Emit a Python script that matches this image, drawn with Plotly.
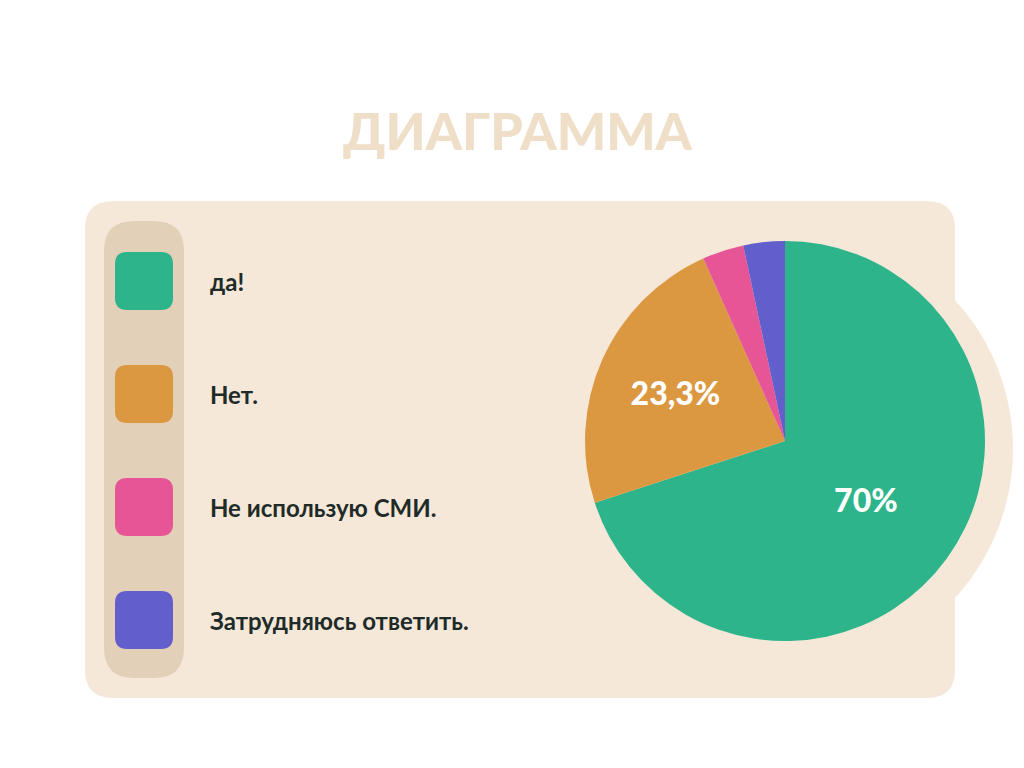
import plotly.graph_objects as go

labels = ["да!", "Нет.", "Не использую СМИ.", "Затрудняюсь ответить."]
values = [70, 23.3, 3.35, 3.35]
shown = ["70%", "23,3%", "", ""]
colors = ["#2db48a", "#db9841", "#e65595", "#625ecb"]

def rrect(x0, y0, x1, y1, r):
    return (f"M{x0+r},{y0} L{x1-r},{y0} Q{x1},{y0} {x1},{y0+r} L{x1},{y1-r} Q{x1},{y1} {x1-r},{y1} "
            f"L{x0+r},{y1} Q{x0},{y1} {x0},{y1-r} L{x0},{y0+r} Q{x0},{y0} {x0+r},{y0} Z")

fig = go.Figure()
# empty scatter so the pixel-unit axes exist for shapes and annotations
fig.add_trace(go.Scatter(x=[None], y=[None], showlegend=False, hoverinfo="skip"))
fig.add_trace(go.Pie(
    labels=labels, values=values, text=shown, texttemplate="%{text}",
    textposition="inside", insidetextorientation="horizontal",
    marker=dict(colors=colors), sort=False, direction="clockwise", rotation=0,
    textfont=dict(color="white", size=32, family="Lato Black, Lato, sans-serif"),
    showlegend=False, hoverinfo="label+percent",
    domain=dict(x=[577/1024, 977/1024], y=[1-633/768, 1-233/768]),
))

shapes = [
    dict(type="path", path=rrect(77, 193, 947, 690, 28), fillcolor="#f5e8d8", line_width=0, layer="below"),
    dict(type="circle", x0=565, y0=221, x1=1005, y1=661, fillcolor="#f5e8d8", line_width=0, layer="below"),
    dict(type="path", path=rrect(96, 213, 176, 670, 30), fillcolor="#e3d0b8", line_width=0, layer="below"),
]
annotations = []
for i, (lab, col) in enumerate(zip(labels, colors)):
    yc = 273 + i * 113
    shapes.append(dict(type="path", path=rrect(107, yc - 29, 165, yc + 29, 12),
                       fillcolor=col, line_width=0, layer="below"))
    annotations.append(dict(x=200, y=yc, text=f"<b>{lab}</b>", showarrow=False, xanchor="left",
                            font=dict(size=24, color="#1e2b28", family="Lato, sans-serif")))

annotations.append(dict(x=510, y=122, text="<b>ДИАГРАММА</b>", showarrow=False,
                        font=dict(size=52, color="#efdfc8", family="Lato Black, Lato, sans-serif")))

fig.update_layout(
    width=1024, height=768, margin=dict(l=0, r=0, t=0, b=0),
    paper_bgcolor="white", plot_bgcolor="white",
    xaxis=dict(range=[0, 1024], visible=False, fixedrange=True),
    yaxis=dict(range=[768, 0], visible=False, fixedrange=True),
    shapes=shapes, annotations=annotations,
)
fig.write_html("out.html")
